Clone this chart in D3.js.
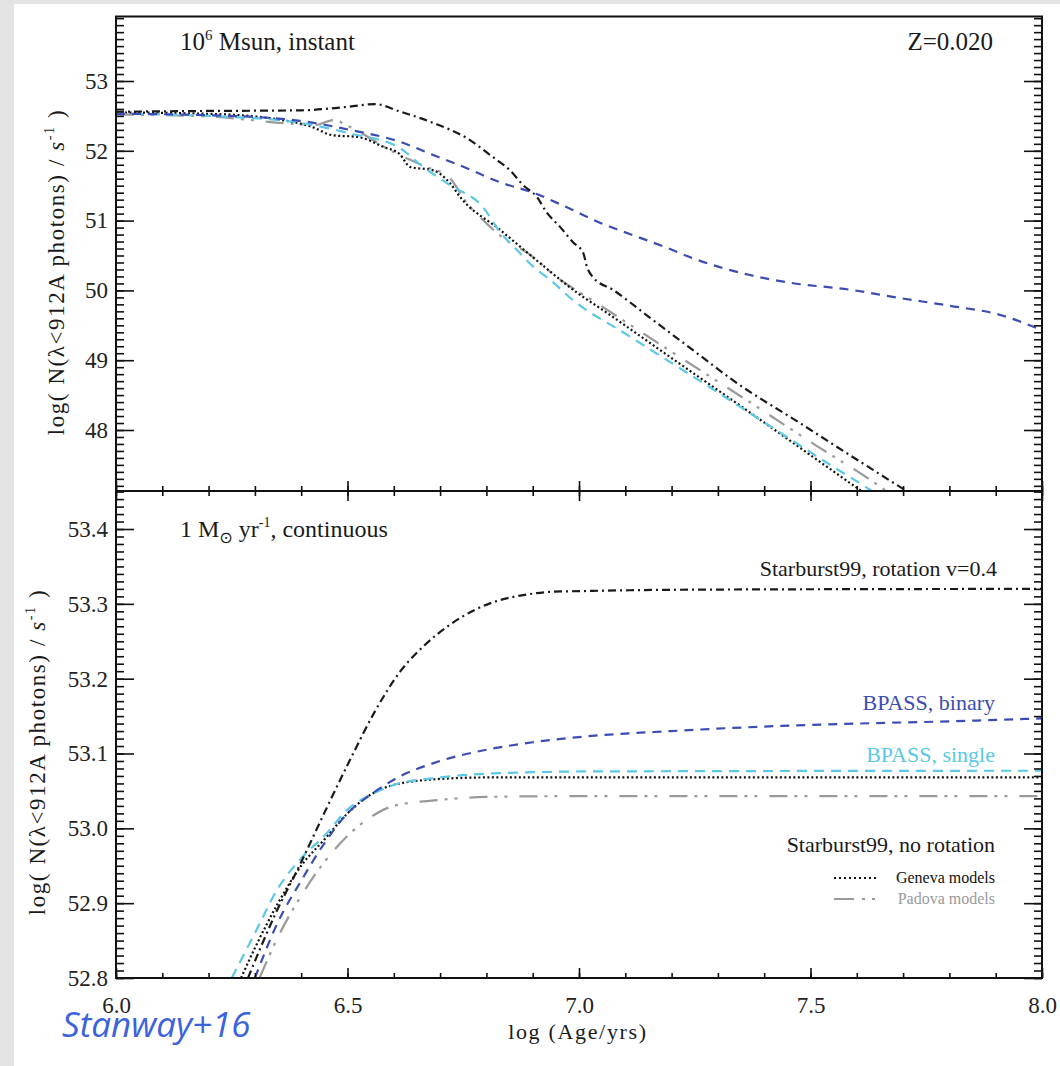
<!DOCTYPE html>
<html>
<head>
<meta charset="utf-8">
<script src="https://cdn.jsdelivr.net/npm/d3@7/dist/d3.min.js"></script>
<style>
  html, body { margin: 0; padding: 0; background: #e4e4e4; }
  svg { display: block; }
</style>
</head>
<body>
<svg id="chart" width="1060" height="1066"></svg>
<script>
// ---------------- DATA ----------------
// x values are log(Age/yrs); y values are log N(lambda<912A photons)/s^-1
// Top panel: 10^6 Msun instantaneous burst, Z=0.020
const topSB99Rot = [[6.0,52.56],[6.18,52.57],[6.40,52.58],[6.50,52.63],[6.56,52.67],[6.61,52.57],[6.685,52.40],[6.758,52.18],[6.814,51.91],[6.851,51.72],[6.879,51.51],[6.909,51.34],[6.931,51.11],[6.959,50.91],[6.987,50.69],[7.009,50.54],[7.017,50.34],[7.030,50.19],[7.073,50.01],[7.153,49.61],[7.261,49.07],[7.333,48.71],[7.477,48.10],[7.585,47.64],[7.704,47.14],[7.75,46.95]];
const topBPASSBin = [[6.0,52.53],[6.2,52.51],[6.397,52.43],[6.505,52.30],[6.613,52.13],[6.685,51.94],[6.758,51.75],[6.829,51.55],[6.901,51.40],[6.974,51.19],[7.045,50.97],[7.117,50.79],[7.190,50.61],[7.246,50.46],[7.369,50.22],[7.456,50.11],[7.585,50.01],[7.693,49.89],[7.801,49.78],[7.909,49.65],[8.0,49.43]];
const topBPASSSin = [[6.0,52.53],[6.2,52.50],[6.397,52.40],[6.505,52.25],[6.613,52.04],[6.663,51.77],[6.721,51.51],[6.793,51.19],[6.829,50.84],[6.866,50.58],[6.901,50.34],[6.938,50.15],[6.987,49.86],[7.10,49.38],[7.25,48.75],[7.40,48.11],[7.55,47.47],[7.629,47.14],[7.68,46.90]];
const topGeneva = [[6.0,52.55],[6.2,52.53],[6.35,52.45],[6.42,52.35],[6.47,52.22],[6.52,52.20],[6.58,52.05],[6.613,51.95],[6.635,51.77],[6.685,51.72],[6.721,51.54],[6.743,51.34],[6.829,50.87],[6.916,50.39],[6.987,50.01],[7.060,49.68],[7.20,49.03],[7.35,48.34],[7.50,47.64],[7.607,47.14],[7.66,46.90]];
const topPadova = [[6.0,52.52],[6.2,52.49],[6.397,52.38],[6.43,52.37],[6.47,52.44],[6.50,52.36],[6.60,51.98],[6.678,51.75],[6.715,51.65],[6.765,51.19],[6.786,51.05],[6.851,50.68],[6.888,50.54],[6.952,50.19],[7.045,49.79],[7.20,49.12],[7.35,48.48],[7.50,47.83],[7.661,47.14],[7.71,46.90]];

// Bottom panel: 1 Msun/yr continuous star formation
const botSB99Rot = [[6.285,52.80],[6.343,52.884],[6.397,52.951],[6.451,53.022],[6.505,53.091],[6.559,53.156],[6.613,53.209],[6.667,53.245],[6.721,53.272],[6.775,53.292],[6.829,53.305],[6.883,53.312],[6.937,53.316],[7.002,53.317],[7.261,53.319],[8.0,53.320]];
const botBPASSBin = [[6.30,52.80],[6.35,52.875],[6.40,52.93],[6.45,52.98],[6.50,53.02],[6.55,53.045],[6.60,53.065],[6.70,53.09],[6.80,53.105],[6.90,53.115],[7.00,53.122],[7.20,53.13],[7.40,53.136],[7.60,53.14],[7.80,53.143],[8.00,53.147]];
const botBPASSSin = [[6.25,52.80],[6.30,52.86],[6.35,52.92],[6.40,52.96],[6.45,52.99],[6.50,53.025],[6.55,53.045],[6.60,53.058],[6.70,53.068],[6.80,53.073],[6.90,53.075],[7.00,53.076],[8.00,53.077]];
const botGeneva = [[6.27,52.80],[6.30,52.84],[6.35,52.90],[6.40,52.95],[6.45,52.985],[6.50,53.02],[6.55,53.045],[6.60,53.058],[6.70,53.066],[6.80,53.068],[7.00,53.068],[8.00,53.068]];
const botPadova = [[6.31,52.80],[6.35,52.855],[6.40,52.91],[6.45,52.955],[6.50,52.99],[6.55,53.015],[6.60,53.03],[6.70,53.038],[6.80,53.042],[7.00,53.043],[8.00,53.043]];

// Tick values
const xMajorTicks = [6.0, 6.5, 7.0, 7.5, 8.0];
const topYMajorTicks = [48, 49, 50, 51, 52, 53];
const botYMajorTicks = [52.8, 52.9, 53.0, 53.1, 53.2, 53.3, 53.4];

// Series styles
const styles = {
  sb99rot: { color: "#1a1a1a", dash: "8,4,2,4" },
  bin:     { color: "#3b4db3", dash: "9,7" },
  sin:     { color: "#5ac8e6", dash: "10,7" },
  geneva:  { color: "#111111", dash: "2,2.5" },
  padova:  { color: "#9a9a9a", dash: "18,7,3,7,3,12" }
};

// ---------------- LAYOUT ----------------
const SERIF = "'Liberation Serif', 'Times New Roman', 'DejaVu Serif', serif";
const L = 116, R = 1042, T1 = 16.5, B1 = 491, T2 = 491, B2 = 978;
const svg = d3.select("#chart");

svg.append("rect").attr("x", 14).attr("y", 4).attr("width", 1046).attr("height", 1062).attr("fill", "#ffffff");

const x = d3.scaleLinear().domain([6.0, 8.0]).range([L, R]);
const yTop = d3.scaleLinear().domain([48 - (B1 - 430) / 69.8, 53 + (81 - T1) / 69.8]).range([B1, T1]);
const yBot = d3.scaleLinear().domain([52.8, 53.4 + (529 - T2) / 748]).range([B2, T2]);

const defs = svg.append("defs");
defs.append("clipPath").attr("id", "clipTop").append("rect").attr("x", L).attr("y", T1).attr("width", R - L).attr("height", B1 - T1);
defs.append("clipPath").attr("id", "clipBot").append("rect").attr("x", L).attr("y", T2).attr("width", R - L).attr("height", B2 - T2);

function drawSeries(g, data, y, st) {
  const line = d3.line().x(d => x(d[0])).y(d => y(d[1])).curve(d3.curveMonotoneX);
  g.append("path").datum(data).attr("d", line)
    .attr("fill", "none").attr("stroke", st.color).attr("stroke-width", 2.2)
    .attr("stroke-dasharray", st.dash);
}

const gTop = svg.append("g").attr("clip-path", "url(#clipTop)");
drawSeries(gTop, topPadova, yTop, styles.padova);
drawSeries(gTop, topGeneva, yTop, styles.geneva);
drawSeries(gTop, topBPASSSin, yTop, styles.sin);
drawSeries(gTop, topBPASSBin, yTop, styles.bin);
drawSeries(gTop, topSB99Rot, yTop, styles.sb99rot);

const gBot = svg.append("g").attr("clip-path", "url(#clipBot)");
drawSeries(gBot, botPadova, yBot, styles.padova);
drawSeries(gBot, botGeneva, yBot, styles.geneva);
drawSeries(gBot, botBPASSSin, yBot, styles.sin);
drawSeries(gBot, botBPASSBin, yBot, styles.bin);
drawSeries(gBot, botSB99Rot, yBot, styles.sb99rot);

// ---------------- AXES ----------------
function styleAxis(g, showLabels) {
  g.attr("font-family", SERIF).attr("font-size", 23);
  g.select(".domain").remove();
  g.selectAll(".tick line").attr("stroke", "#111").attr("stroke-width", 1.6);
  g.selectAll(".tick text").attr("font-family", SERIF).attr("font-size", 23).attr("fill", "#222");
  if (!showLabels) g.selectAll(".tick text").remove();
}
const xMinor = d3.range(6.0, 8.0001, 0.1).map(v => +v.toFixed(2));
const topYMinor = d3.range(47.2, 53.95, 0.1).map(v => +v.toFixed(2));
const botYMinor = d3.range(52.8, 53.455, 0.01).map(v => +v.toFixed(3));

[[d3.axisLeft, L, true], [d3.axisRight, R, false]].forEach(([ax, px, lab]) => {
  styleAxis(svg.append("g").attr("transform", `translate(${px},0)`)
    .call(ax(yTop).tickValues(topYMinor).tickSize(-8).tickFormat("")), false);
  styleAxis(svg.append("g").attr("transform", `translate(${px},0)`)
    .call(ax(yTop).tickValues(topYMajorTicks).tickSize(-18).tickPadding(8).tickFormat(d3.format("d"))), lab);
});
[[d3.axisLeft, L, true], [d3.axisRight, R, false]].forEach(([ax, px, lab]) => {
  styleAxis(svg.append("g").attr("transform", `translate(${px},0)`)
    .call(ax(yBot).tickValues(botYMinor).tickSize(-8).tickFormat("")), false);
  styleAxis(svg.append("g").attr("transform", `translate(${px},0)`)
    .call(ax(yBot).tickValues(botYMajorTicks).tickSize(-18).tickPadding(8).tickFormat(d3.format(".1f"))), lab);
});
[[d3.axisBottom, B1, false], [d3.axisTop, T2, false], [d3.axisBottom, B2, true]].forEach(([ax, py, lab]) => {
  styleAxis(svg.append("g").attr("transform", `translate(0,${py})`)
    .call(ax(x).tickValues(xMinor).tickSize(-5).tickFormat("")), false);
  styleAxis(svg.append("g").attr("transform", `translate(0,${py})`)
    .call(ax(x).tickValues(xMajorTicks).tickSize(-10).tickPadding(19).tickFormat(d3.format(".1f"))), lab);
});

svg.append("rect").attr("x", L).attr("y", T1).attr("width", R - L).attr("height", B1 - T1)
  .attr("fill", "none").attr("stroke", "#111").attr("stroke-width", 2);
svg.append("rect").attr("x", L).attr("y", T2).attr("width", R - L).attr("height", B2 - T2)
  .attr("fill", "none").attr("stroke", "#111").attr("stroke-width", 2);

// ---------------- TEXT ----------------
const txt = (x0, y0, anchor, size, color) => svg.append("text").attr("font-family", SERIF)
  .attr("x", x0).attr("y", y0).attr("text-anchor", anchor).attr("font-size", size).attr("fill", color);

function fitWidth(sel, target) {
  const n = sel.text().length;
  const w = sel.node().getComputedTextLength();
  if (n > 1) sel.attr("letter-spacing", ((target - w) / (n - 1)).toFixed(2));
}

let t = txt(180, 50, "start", 25, "#1a1a1a");
t.append("tspan").text("10");
t.append("tspan").attr("font-size", 15).attr("dy", -10).text("6");
t.append("tspan").attr("dy", 10).text(" Msun, instant");
txt(993, 50, "end", 25, "#1a1a1a").text("Z=0.020");

t = txt(180, 537, "start", 24, "#1a1a1a");
t.append("tspan").text("1 M");
t.append("tspan").attr("font-size", 16).attr("dy", 6).attr("font-family", "DejaVu Sans").text("\u2299");
t.append("tspan").attr("dy", -6).text(" yr");
t.append("tspan").attr("font-size", 14).attr("dy", -10).text("-1");
t.append("tspan").attr("dy", 10).text(", continuous");

txt(997, 576, "end", 22, "#1a1a1a").text("Starburst99, rotation v=0.4");
txt(995, 710, "end", 22, styles.bin.color).text("BPASS, binary");
txt(995, 762, "end", 22, styles.sin.color).text("BPASS, single");
txt(995, 852, "end", 22, "#1a1a1a").text("Starburst99, no rotation");

svg.append("line").attr("x1", 834).attr("x2", 877).attr("y1", 878).attr("y2", 878)
  .attr("stroke", styles.geneva.color).attr("stroke-width", 2).attr("stroke-dasharray", "2,3");
txt(995, 883, "end", 16, "#111").text("Geneva models");
svg.append("line").attr("x1", 834).attr("x2", 875).attr("y1", 899).attr("y2", 899)
  .attr("stroke", styles.padova.color).attr("stroke-width", 2).attr("stroke-dasharray", "20,8,3,7,3,40");
txt(995, 904, "end", 16, "#9a9a9a").text("Padova models");

function yTitle(cx, cy, size, len) {
  const tt = svg.append("text").attr("font-family", SERIF).attr("font-size", size).attr("fill", "#1a1a1a")
    .attr("text-anchor", "middle").attr("transform", `translate(${cx},${cy}) rotate(-90)`);
  tt.append("tspan").text("log( N(\u03bb<912A photons) / ");
  tt.append("tspan").attr("font-style", "italic").text("s");
  tt.append("tspan").attr("font-size", size * 0.62).attr("dy", -size * 0.42).text("-1");
  tt.append("tspan").attr("dy", size * 0.42).text(" )");
  fitWidth(tt, len);
}
yTitle(64, 272, 23, 325);
yTitle(45, 752, 23, 325);

const xt = txt(578, 1039, "middle", 22, "#1a1a1a").text("log (Age/yrs)");
fitWidth(xt, 138);

svg.append("text").attr("x", 62).attr("y", 1037).attr("font-family", "'Open Sans', 'Noto Sans', sans-serif")
  .attr("font-style", "italic").attr("font-size", 35).attr("fill", "#3b63dc").text("Stanway+16");
</script>
</body>
</html>
